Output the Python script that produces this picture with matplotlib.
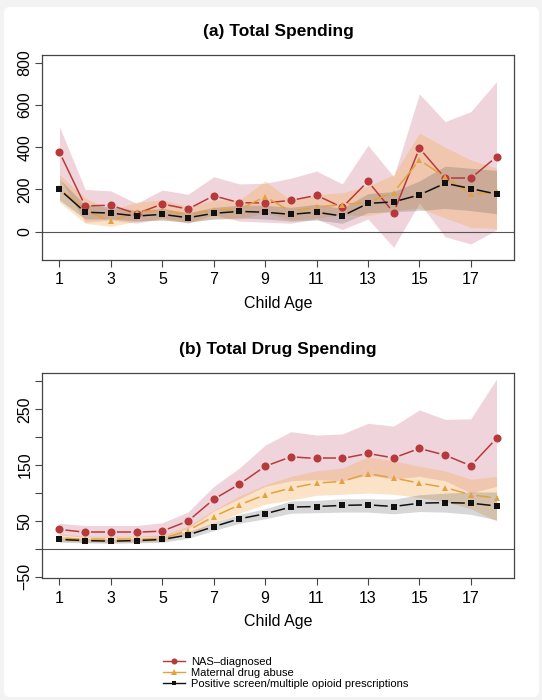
import numpy as np
import matplotlib
matplotlib.use("Agg")
import matplotlib.pyplot as plt
from matplotlib.collections import LineCollection
from matplotlib.transforms import IdentityTransform
from matplotlib.patches import FancyBboxPatch
from matplotlib.lines import Line2D

plt.rcParams['font.family'] = ['Liberation Sans', 'DejaVu Sans']

# ---------------- data ----------------
age = list(range(1, 19))

# (a) Total spending
nas_total = [376, 122, 125, 85, 131, 107, 170, 137, 136, 148, 172, 115, 238, 90, 395, 253, 253, 354]
nas_total_lo = [255, 45, 55, 40, 65, 40, 80, 50, 45, 40, 60, 10, 60, -74, 136, -24, -58, 8]
nas_total_hi = [497, 200, 193, 134, 197, 177, 260, 226, 229, 253, 287, 226, 409, 260, 652, 521, 568, 710]

mat_total = [205, 100, 51, 95, 100, 80, 103, 105, 166, 95, 117, 128, 140, 185, 340, 258, 177, 188]
mat_total_lo = [140, 40, 25, 50, 55, 45, 60, 60, 90, 55, 65, 80, 75, 100, 110, 65, 20, 15]
mat_total_hi = [270, 160, 100, 140, 150, 120, 150, 150, 240, 150, 175, 185, 215, 270, 467, 400, 340, 300]

scr_total = [200, 92, 88, 74, 82, 66, 87, 96, 92, 82, 92, 74, 134, 141, 174, 229, 204, 178]
scr_total_lo = [150, 60, 60, 50, 55, 45, 60, 65, 60, 50, 55, 40, 90, 95, 100, 110, 100, 85]
scr_total_hi = [250, 125, 118, 100, 110, 90, 115, 125, 125, 115, 130, 110, 180, 190, 240, 310, 300, 290]

# (b) Total drug spending
nas_drug = [35, 30, 30, 30, 32, 50, 89, 116, 148, 165, 162, 162, 171, 163, 180, 168, 149, 198]
nas_drug_lo = [25, 21, 21, 21, 22, 36, 68, 90, 112, 122, 124, 122, 132, 125, 130, 122, 100, 112]
nas_drug_hi = [46, 42, 42, 42, 47, 66, 112, 145, 186, 210, 204, 206, 225, 220, 249, 232, 233, 304]

mat_drug = [20, 17, 17, 17, 19, 33, 58, 79, 97, 109, 118, 121, 135, 127, 118, 110, 97, 91]
mat_drug_lo = [14, 12, 12, 12, 14, 26, 46, 64, 80, 88, 96, 98, 100, 98, 92, 85, 72, 50]
mat_drug_hi = [27, 23, 23, 23, 25, 41, 70, 95, 115, 130, 140, 145, 165, 158, 148, 140, 125, 130]

scr_drug = [17, 15, 14, 15, 17, 25, 40, 54, 63, 75, 76, 78, 79, 76, 82, 83, 82, 77]
scr_drug_lo = [12, 11, 10, 11, 12, 19, 33, 46, 54, 64, 65, 66, 66, 63, 67, 66, 62, 52]
scr_drug_hi = [22, 19, 18, 19, 22, 31, 47, 62, 72, 86, 87, 90, 90, 89, 97, 100, 102, 102]

series_labels = ["NAS\u2013diagnosed", "Maternal drug abuse",
                 "Positive screen/multiple opioid prescriptions"]
xticks = [1, 3, 5, 7, 9, 11, 13, 15, 17]
yticks_a = [0, 200, 400, 600, 800]
yticks_b = [-50, 0, 50, 100, 150, 200, 250, 300]
yticklabels_b = ["\u221250", "", "50", "", "150", "", "250", ""]

# ---------------- styles ----------------
line_cols = ["#B8393C", "#E3A23E", "#111111"]
band_cols = [("#C0506A", 0.24), ("#F5A54A", 0.30), ("#3A3A3A", 0.20)]
markers = [("o", 5.8), ("^", 5.0), ("s", 4.3)]
spine_col = "#444444"

W, H = 542, 700
fig = plt.figure(figsize=(W / 100, H / 100), dpi=100)
fig.patch.set_facecolor("#f3f3f3")
bg = FancyBboxPatch((4 / W, 3 / H), 535 / W, 690 / H,
                    boxstyle="round,pad=0,rounding_size=0.01",
                    transform=fig.transFigure, facecolor="white",
                    edgecolor="none", zorder=-10)
fig.patches.append(bg)

ax_a = fig.add_axes([42 / W, 1 - 260 / H, 472 / W, 205 / H])
ax_b = fig.add_axes([42 / W, 1 - 578.3 / H, 472 / W, 205 / H])


def gapped_line(ax, x, y, color, gap_px=6.0, lw=1.1):
    pts = ax.transData.transform(np.column_stack([x, y]))
    segs = []
    for p, q in zip(pts[:-1], pts[1:]):
        d = q - p
        L = np.hypot(*d)
        if L > 2 * gap_px:
            u = d / L
            segs.append([p + u * gap_px, q - u * gap_px])
    lc = LineCollection(segs, colors=color, linewidths=lw,
                        transform=IdentityTransform(), zorder=3)
    ax.add_collection(lc, autolim=False)


def panel(ax, data, ylim, yticks, yticklabels, title):
    ax.set_xlim(0.32, 18.68)
    ax.set_ylim(*ylim)
    ax.set_facecolor("none")
    for (lo, hi), (bc, ba) in zip([(d[1], d[2]) for d in data], band_cols):
        ax.fill_between(age, lo, hi, color=bc, alpha=ba, linewidth=0, zorder=1)
    ax.axhline(0, color="#555555", lw=0.8, zorder=2)
    for d, lc, (m, ms) in zip(data, line_cols, markers):
        gapped_line(ax, age, d[0], lc)
        ax.plot(age, d[0], linestyle="none", marker=m, markersize=ms,
                color=lc, markeredgewidth=0, zorder=4)
    ax.set_xticks(xticks)
    ax.set_yticks(yticks)
    ax.set_yticklabels(yticklabels, rotation=90, va="center")
    ax.tick_params(axis="both", length=5, width=0.8, color=spine_col,
                   labelsize=11.5, labelcolor="black")
    ax.tick_params(axis="x", pad=4)
    ax.tick_params(axis="y", pad=2)
    for s in ax.spines.values():
        s.set_color(spine_col)
        s.set_linewidth(0.9)
    ax.set_xlabel("Child Age", fontsize=11.5, labelpad=6)
    ax.set_title(title, fontsize=12.5, fontweight="bold", pad=14)


data_a = [(nas_total, nas_total_lo, nas_total_hi),
          (mat_total, mat_total_lo, mat_total_hi),
          (scr_total, scr_total_lo, scr_total_hi)]
data_b = [(nas_drug, nas_drug_lo, nas_drug_hi),
          (mat_drug, mat_drug_lo, mat_drug_hi),
          (scr_drug, scr_drug_lo, scr_drug_hi)]

panel(ax_a, data_a, (-134, 836), yticks_a, [str(v) for v in yticks_a],
      "(a) Total Spending")
panel(ax_b, data_b, (-52.5, 314.5), yticks_b, yticklabels_b,
      "(b) Total Drug Spending")

handles = [Line2D([], [], color=c, marker=m, markersize=ms * 0.75, lw=1.0,
                  markeredgewidth=0)
           for c, (m, ms) in zip(line_cols, markers)]
fig.legend(handles, series_labels, loc="upper left",
           bbox_to_anchor=(157 / W, 1 - 651 / H), frameon=False,
           fontsize=8, handlelength=2.0, handletextpad=0.6,
           labelspacing=0.12, borderpad=0)

fig.savefig("out.png", dpi=100, facecolor=fig.get_facecolor())
